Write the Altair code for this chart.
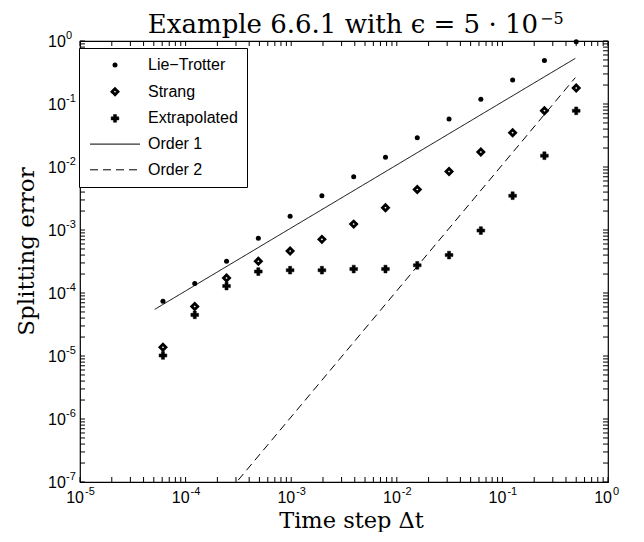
import altair as alt
import pandas as pd

# ---------------- data ----------------
dt = [0.5, 0.25, 0.125, 0.0625, 0.03125, 0.015625, 0.0078125, 0.00390625,
      0.001953125, 0.0009765625, 0.00048828125, 0.000244140625,
      0.0001220703125, 0.00006103515625]
lie_trotter = [0.97, 0.49, 0.24, 0.119, 0.058, 0.029, 0.0143, 0.0070, 0.0035,
               0.00165, 0.00074, 0.00032, 0.000141, 0.000074]
strang = [0.18, 0.078, 0.035, 0.0173, 0.0085, 0.0044, 0.00226, 0.00124,
          0.00071, 0.000464, 0.00032, 0.000173, 0.000061, 0.0000138]
extrapolated = [0.078, 0.0151, 0.0035, 0.00098, 0.00040, 0.000275, 0.00024,
                0.00024, 0.00023, 0.00023, 0.000219, 0.000129, 0.000045,
                0.0000102]

order1_dt = [5.1e-5, 0.49]
order1_err = [5.5e-5, 0.53]
order2_dt = [5.1e-5, 0.49]
order2_err = [2.8e-9, 0.262]

names = ["Lie\u2212Trotter", "Strang", "Extrapolated", "Order 1", "Order 2"]

x_exponents = [-5, -4, -3, -2, -1, 0]
y_exponents = [-7, -6, -5, -4, -3, -2, -1, 0]
minor_mult = [2, 3, 4, 5, 6, 7, 8, 9]

title_main = "Example 6.6.1 with \u03f5 = 5 \u00b7 10"
title_exp = "\u22125"
x_title = "Time step \u0394t"
y_title = "Splitting error"

W, H = 528, 441

# ---------------- tables ----------------
pts = pd.DataFrame({
    "dt": dt * 3,
    "err": lie_trotter + strang + extrapolated,
    "method": [names[0]] * len(dt) + [names[1]] * len(dt) + [names[2]] * len(dt),
})
lines = pd.DataFrame({
    "dt": order1_dt + order2_dt,
    "err": order1_err + order2_err,
    "method": [names[3]] * 2 + [names[4]] * 2,
})

def tick_table(exps):
    vals = [10.0 ** e for e in exps]
    for e in exps[:-1]:
        vals += [m * 10.0 ** e for m in minor_mult]
    return pd.DataFrame({"v": vals})

xt = tick_table(x_exponents)
yt = tick_table(y_exponents)
xl = pd.DataFrame({"v": [10.0 ** e for e in x_exponents],
                   "base": ["10"] * len(x_exponents),
                   "exp": [str(e) for e in x_exponents]})
yl = pd.DataFrame({"v": [10.0 ** e for e in y_exponents],
                   "base": ["10"] * len(y_exponents),
                   "exp": [str(e) for e in y_exponents]})

# ---------------- scales / axes / legend ----------------
xscale = alt.Scale(type="log", domain=[1e-5, 1], nice=False)
yscale = alt.Scale(type="log", domain=[1e-7, 1], nice=False)

xaxis = alt.Axis(title=x_title, labels=False, ticks=False, domain=False, grid=False,
                 titleFont="DejaVu Serif", titleFontSize=22.5, titleFontWeight="normal",
                 titleColor="black", titlePadding=27, titleX=271)
yaxis = alt.Axis(title=y_title, labels=False, ticks=False, domain=False, grid=False,
                 titleFont="DejaVu Serif", titleFontSize=23, titleFontWeight="normal",
                 titleColor="black", titlePadding=42, titleY=210)

leg = alt.Legend(title=None, orient="none", legendX=-1, legendY=7,
                 padding=9, strokeColor="black", fillColor="white",
                 labelFont="Liberation Sans", labelFontSize=16, labelColor="black",
                 symbolOffset=19, labelOffset=25, rowPadding=9.7, labelLimit=300)

shape_scale = alt.Scale(domain=names, range=["circle", "diamond", "cross", "M-5,0H5", "M-5,0H5"])
fill_scale = alt.Scale(domain=names, range=["black", "white", "black", "transparent", "transparent"])
stroke_scale = alt.Scale(domain=names, range=["black"] * 5)
size_scale = alt.Scale(type="ordinal", domain=names, range=[25, 36, 60, 100, 100])
sw_scale = alt.Scale(type="ordinal", domain=names, range=[0, 2.8, 0.5, 1, 1])
dash_scale = alt.Scale(domain=names, range=[[1, 0], [1, 0], [1, 0], [1, 0], [8, 5]])

X = lambda f: alt.X(f, type="quantitative", scale=xscale, axis=xaxis)
Y = lambda f: alt.Y(f, type="quantitative", scale=yscale, axis=yaxis)

line_layer = alt.Chart(lines).mark_line(clip=True).encode(
    x=X("dt"), y=Y("err"),
    stroke=alt.Stroke("method:N", scale=stroke_scale, legend=leg),
    strokeWidth=alt.StrokeWidth("method:N", scale=sw_scale, legend=leg),
    strokeDash=alt.StrokeDash("method:N", scale=dash_scale, legend=leg),
)

point_layer = alt.Chart(pts).mark_point(filled=True, opacity=1).encode(
    x=X("dt"), y=Y("err"),
    shape=alt.Shape("method:N", scale=shape_scale, legend=leg),
    fill=alt.Fill("method:N", scale=fill_scale, legend=leg),
    stroke=alt.Stroke("method:N", scale=stroke_scale, legend=leg),
    size=alt.Size("method:N", scale=size_scale, legend=leg),
    strokeWidth=alt.StrokeWidth("method:N", scale=sw_scale, legend=leg),
)

TL = 5
tick_bottom = alt.Chart(xt).mark_rule(color="black", strokeWidth=1).encode(
    x=X("v"), y=alt.value(H), y2=alt.value(H - TL))
tick_top = alt.Chart(xt).mark_rule(color="black", strokeWidth=1).encode(
    x=X("v"), y=alt.value(0), y2=alt.value(TL))
tick_left = alt.Chart(yt).mark_rule(color="black", strokeWidth=1).encode(
    y=Y("v"), x=alt.value(0), x2=alt.value(TL))
tick_right = alt.Chart(yt).mark_rule(color="black", strokeWidth=1).encode(
    y=Y("v"), x=alt.value(W), x2=alt.value(W - TL))

xl_base = alt.Chart(xl).mark_text(align="right", baseline="alphabetic", dx=4, dy=20.5,
                                  font="Liberation Sans", fontSize=16, color="black").encode(
    x=X("v"), y=alt.value(H), text="base:N")
xl_exp = alt.Chart(xl).mark_text(align="left", baseline="alphabetic", dx=5, dy=12.5,
                                 font="Liberation Sans", fontSize=11, color="black").encode(
    x=X("v"), y=alt.value(H), text="exp:N")
yl_base = alt.Chart(yl).mark_text(align="left", baseline="alphabetic", dx=-32, dy=5.5,
                                  font="Liberation Sans", fontSize=16, color="black").encode(
    y=Y("v"), x=alt.value(0), text="base:N")
yl_exp = alt.Chart(yl).mark_text(align="left", baseline="alphabetic", dx=-14, dy=-2,
                                 font="Liberation Sans", fontSize=11, color="black").encode(
    y=Y("v"), x=alt.value(0), text="exp:N")

t_main = alt.Chart(pd.DataFrame({"t": [title_main]})).mark_text(
    align="right", baseline="alphabetic", font="DejaVu Serif", fontSize=26, color="black"
).encode(x=alt.value(458), y=alt.value(-8), text="t:N")
t_exp = alt.Chart(pd.DataFrame({"t": [title_exp]})).mark_text(
    align="left", baseline="alphabetic", font="DejaVu Serif", fontSize=16, color="black"
).encode(x=alt.value(460), y=alt.value(-17), text="t:N")

chart = alt.layer(
    line_layer, point_layer, tick_bottom, tick_top, tick_left, tick_right,
    xl_base, xl_exp, yl_base, yl_exp, t_main, t_exp
).properties(
    width=W, height=H,
    padding={"left": 72, "top": 33, "right": 20, "bottom": 50},
    autosize=alt.AutoSizeParams(type="none"),
    background="white",
).configure_view(stroke="black", strokeWidth=1.2, fill="white")

chart.save("out.html", embed_options={"renderer": "svg", "actions": False})
